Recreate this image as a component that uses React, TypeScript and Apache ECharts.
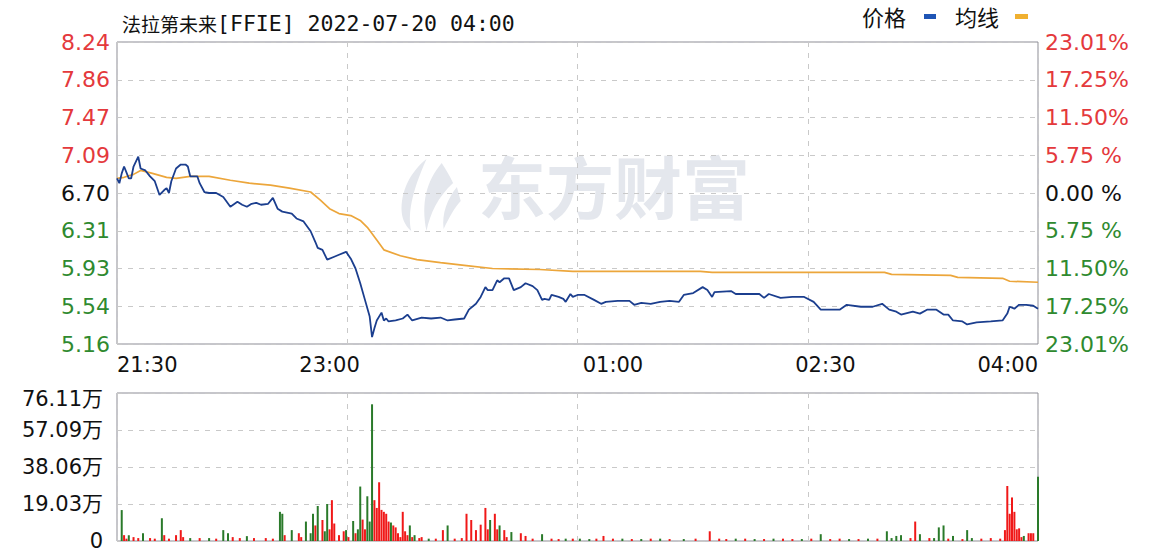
import React, { useEffect, useRef } from "react";
import * as echarts from "echarts";

// ---------- data ----------
const titleName = "法拉第未来";
const titleRest = "[FFIE] 2022-07-20 04:00";

const timeTickMinutes = [0, 90, 210, 300, 390];
const timeTickLabels = ["21:30", "23:00", "01:00", "02:30", "04:00"];

const priceMin = 5.16;
const priceMax = 8.24;
// top to bottom
const priceTickLabels = ["8.24", "7.86", "7.47", "7.09", "6.70", "6.31", "5.93", "5.54", "5.16"];
const pctTickLabels = ["23.01%", "17.25%", "11.50%", "5.75 %", "0.00 %", "5.75 %", "11.50%", "17.25%", "23.01%"];
const volMax = 76.11;
const volTickLabels = ["76.11万", "57.09万", "38.06万", "19.03万", "0"];

// [minute since 21:30, price]
const pricePoints = [
  [0, 6.85], [1, 6.8], [2, 6.9], [3, 6.97], [5, 6.85], [6, 6.85], [7, 6.97], [9, 7.07], [10, 6.95], [12, 6.93],
  [14, 6.87], [16, 6.82], [18, 6.68], [20, 6.73], [21, 6.75], [22, 6.7], [23, 6.82], [25, 6.95], [27, 6.99], [29, 6.99],
  [30, 6.97], [31, 6.87], [32, 6.87], [34, 6.87], [35, 6.8], [37, 6.71], [39, 6.7], [42, 6.7], [45, 6.66], [48, 6.56],
  [51, 6.61], [53, 6.58], [55, 6.56], [57, 6.59], [59, 6.6], [61, 6.58], [64, 6.59], [66, 6.65], [68, 6.54], [70, 6.51],
  [74, 6.49], [76, 6.44], [79, 6.41], [82, 6.31], [84, 6.2], [85, 6.14], [87, 6.12], [89, 6.02], [92, 6.05], [94, 6.07],
  [97, 6.1], [99, 6.03], [101, 5.93], [103, 5.78], [105, 5.61], [107, 5.44], [108, 5.23], [109, 5.32], [110, 5.4], [112, 5.48],
  [113, 5.4], [114, 5.42], [115, 5.39], [118, 5.4], [121, 5.42], [123, 5.46], [125, 5.4], [129, 5.43], [133, 5.42], [137, 5.43],
  [140, 5.4], [143, 5.41], [147, 5.42], [149, 5.51], [152, 5.57], [154, 5.64], [156, 5.74], [157, 5.71], [159, 5.71], [161, 5.81],
  [162, 5.79], [164, 5.83], [166, 5.83], [168, 5.71], [171, 5.74], [173, 5.78], [176, 5.75], [178, 5.71], [180, 5.61], [181, 5.62],
  [183, 5.61], [184, 5.66], [187, 5.64], [189, 5.62], [190, 5.59], [192, 5.67], [193, 5.64], [195, 5.66], [198, 5.66], [202, 5.61],
  [205, 5.57], [207, 5.59], [212, 5.6], [217, 5.6], [219, 5.56], [222, 5.58], [226, 5.57], [230, 5.59], [234, 5.6], [238, 5.59],
  [240, 5.66], [244, 5.68], [248, 5.74], [250, 5.71], [252, 5.64], [253, 5.69], [260, 5.7], [262, 5.67], [272, 5.67], [274, 5.63],
  [276, 5.67], [281, 5.63], [286, 5.64], [291, 5.64], [295, 5.59], [298, 5.51], [306, 5.51], [309, 5.56], [315, 5.54], [320, 5.54],
  [324, 5.57], [327, 5.51], [330, 5.49], [332, 5.46], [337, 5.49], [340, 5.47], [343, 5.51], [347, 5.51], [350, 5.46], [352, 5.46],
  [354, 5.4], [358, 5.39], [360, 5.36], [364, 5.38], [370, 5.39], [375, 5.4], [377, 5.47], [378, 5.54], [380, 5.52], [382, 5.56],
  [385, 5.56], [388, 5.55], [390, 5.52],
];

const avgPoints = [
  [0, 6.85], [3, 6.86], [7, 6.89], [10, 6.93], [15, 6.9], [21, 6.86], [25, 6.85], [31, 6.87], [39, 6.87], [48, 6.83],
  [56, 6.8], [65, 6.78], [73, 6.75], [82, 6.71], [86, 6.63], [90, 6.54], [94, 6.49], [99, 6.47], [103, 6.42], [106, 6.35],
  [110, 6.22], [113, 6.12], [120, 6.06], [127, 6.02], [137, 5.99], [148, 5.96], [159, 5.93], [179, 5.92], [193, 5.9], [247, 5.9],
  [252, 5.89], [325, 5.89], [328, 5.87], [353, 5.86], [356, 5.84], [375, 5.83], [378, 5.8], [390, 5.79],
];

// volume in 万 : [minute, volume]
const volUp = [
  [3, 3], [4, 1.2], [7, 2], [9, 1.5], [14, 1.5], [16, 1.2], [20, 3], [22, 1.2], [25, 3], [27, 5.6], [28, 2], [35, 1.5],
  [42, 1.2], [49, 2], [52, 1.5], [58, 1.5], [63, 1.5], [66, 1.2], [71, 3], [77, 4], [78, 2], [84, 8], [87, 10.8], [90, 6],
  [91, 21], [92, 9], [94, 3], [96, 5], [98, 2], [101, 4], [104, 11], [105, 6], [109, 21], [110, 17], [111, 30.2], [112, 16],
  [113, 15], [114, 14], [115, 10], [117, 8], [118, 7], [119, 4], [120, 2], [121, 15], [122, 5], [123, 3], [125, 2], [128, 1.5],
  [129, 2], [135, 1.2], [138, 5.6], [143, 1.2], [146, 1.5], [148, 14], [150, 10.8], [152, 5.6], [154, 8.4], [156, 17], [157, 6],
  [160, 14], [161, 6], [164, 5.6], [165, 2], [171, 4], [173, 2.6], [176, 1.2], [184, 1.2], [187, 1], [193, 1.2], [203, 1.2],
  [206, 2.6], [210, 1.2], [218, 1], [226, 1.2], [234, 1], [245, 1.2], [251, 5], [255, 1.2], [258, 1], [266, 1.2], [274, 1],
  [282, 1.2], [286, 1], [294, 1.2], [302, 1], [306, 1.2], [314, 1], [322, 1.2], [336, 1.5], [338, 10], [344, 1.5], [352, 1.2],
  [358, 1], [366, 1.2], [370, 1.5], [374, 1.2], [376, 5.6], [377, 28.3], [378, 14], [379, 22.4], [380, 15], [381, 6], [382, 6.5],
  [383, 2], [386, 4], [387, 4], [388, 4],
];
const volDown = [
  [2, 15.9], [5, 3], [11, 4], [19, 11.7], [31, 1.5], [39, 1.5], [45, 5.6], [47, 4], [55, 2.5], [69, 15], [70, 14], [74, 5.6],
  [80, 10], [82, 4], [83, 14], [85, 18], [88, 5], [89, 19], [97, 5.6], [100, 10.3], [102, 6], [103, 28], [106, 23], [107, 10],
  [108, 70.3], [116, 9.5], [124, 8], [126, 3], [132, 1.2], [140, 8], [158, 10.8], [162, 8], [167, 4.6], [180, 3.5], [190, 1.2],
  [196, 1.2], [200, 1], [214, 1.2], [222, 1], [230, 1.2], [240, 1], [262, 1.2], [270, 1], [278, 1.2], [290, 1], [298, 3.5],
  [310, 1], [318, 1.2], [326, 5], [328, 1.5], [330, 2.6], [332, 3], [340, 3.5], [346, 1.5], [348, 7], [350, 8], [354, 2.6],
  [360, 5.6], [362, 1.5], [384, 2.6], [390, 33],
];

// ---------- styles ----------
const RED = "#e4393c";
const GREEN = "#2f8a2f";
const BLACK = "#111111";
const GRID_LINE = "#c9c9c9";
const FONT = "DejaVu Sans, Noto Sans CJK SC, sans-serif";
const CJK = "Noto Sans CJK SC";

const logoPath =
  "M30 2 C14 14 2 34 4 56 C5 64 9 70 14 74 C10 58 14 36 30 2 Z " +
  "M46 6 C30 24 24 46 30 74 C34 56 42 40 58 26 C54 18 50 12 46 6 Z " +
  "M62 30 C52 42 46 56 48 72 C54 60 60 50 66 44 Z";
try {
  echarts.graphic.registerShape("logo", echarts.graphic.extendPath(logoPath, {}));
} catch (e) {
  /* ignore */
}

function richColors(size: number) {
  return {
    r: { color: RED, fontSize: size, fontFamily: FONT, lineHeight: 20 },
    k: { color: BLACK, fontSize: size, fontFamily: FONT, lineHeight: 20 },
    g: { color: GREEN, fontSize: size, fontFamily: FONT, lineHeight: 20 },
  };
}

function buildOption() {
  const dashed = { show: true, lineStyle: { type: [5, 6], color: GRID_LINE, width: 1 } };
  const noAxis = { axisLine: { show: false }, axisTick: { show: false } };
  return {
    animation: false,
    backgroundColor: "#ffffff",
    textStyle: { fontFamily: FONT },
    title: {
      left: 117,
      top: 7,
      text: `{a|${titleName}}{b|${titleRest}}`,
      textStyle: {
        fontWeight: "normal",
        rich: {
          a: { fontSize: 19, fontFamily: CJK, color: BLACK, fontWeight: "normal" },
          b: { fontSize: 21.5, fontFamily: "DejaVu Sans Mono", color: BLACK, fontWeight: "normal" },
        },
      },
    },
    grid: [
      { left: 117, top: 42, width: 921, height: 302, show: true, borderColor: "#8c8c96", borderWidth: 1 },
      { left: 117, top: 393, width: 921, height: 148, show: true, borderColor: "#8c8c96", borderWidth: 1 },
    ],
    xAxis: [
      {
        gridIndex: 0,
        type: "value",
        min: 0,
        max: 390,
        interval: 30,
        ...noAxis,
        splitLine: { show: false },
        axisLabel: {
          margin: 10,
          color: BLACK,
          fontSize: 21,
          fontFamily: FONT,
          showMinLabel: true,
          showMaxLabel: true,
          alignMinLabel: "left",
          alignMaxLabel: "right",
          formatter: (v: number) => {
            const i = timeTickMinutes.indexOf(Math.round(v));
            return i >= 0 ? timeTickLabels[i] : "";
          },
        },
      },
      {
        gridIndex: 0,
        type: "value",
        min: 0,
        max: 390,
        interval: 97.5,
        ...noAxis,
        axisLabel: { show: false },
        splitLine: dashed,
      },
      {
        gridIndex: 1,
        type: "value",
        min: 0,
        max: 390,
        interval: 97.5,
        ...noAxis,
        axisLabel: { show: false },
        splitLine: dashed,
      },
    ],
    yAxis: [
      { gridIndex: 0, type: "value", min: priceMin, max: priceMax, show: false },
      {
        gridIndex: 0,
        type: "value",
        position: "left",
        min: 0,
        max: 8,
        interval: 1,
        ...noAxis,
        splitLine: dashed,
        axisLabel: {
          margin: 7,
          fontSize: 22,
          formatter: (v: number) => {
            const i = Math.round(v);
            const t = priceTickLabels[8 - i];
            const k = i > 4 ? "r" : i === 4 ? "k" : "g";
            return `{${k}|${t}}`;
          },
          rich: richColors(22),
        },
      },
      {
        gridIndex: 0,
        type: "value",
        position: "right",
        min: 0,
        max: 8,
        interval: 1,
        ...noAxis,
        splitLine: { show: false },
        axisLabel: {
          margin: 7,
          fontSize: 22,
          formatter: (v: number) => {
            const i = Math.round(v);
            const t = pctTickLabels[8 - i];
            const k = i > 4 ? "r" : i === 4 ? "k" : "g";
            return `{${k}|${t}}`;
          },
          rich: richColors(22),
        },
      },
      {
        gridIndex: 1,
        type: "value",
        min: 0,
        max: volMax,
        interval: volMax / 4,
        ...noAxis,
        splitLine: dashed,
        axisLabel: {
          margin: 14,
          fontSize: 21,
          formatter: (v: number) => {
            const i = Math.round(v / (volMax / 4));
            const t = volTickLabels[4 - i];
            return i === 4 ? `{t|${t}}` : `{n|${t}}`;
          },
          rich: {
            n: { color: BLACK, fontSize: 21, fontFamily: FONT, lineHeight: 18 },
            t: { color: BLACK, fontSize: 21, fontFamily: FONT, lineHeight: 18, padding: [12, 0, 0, 0] },
          },
        },
      },
    ],
    graphic: [
      {
        type: "logo",
        x: 398,
        y: 157,
        scaleX: 0.95,
        scaleY: 1.0,
        z: 0,
        silent: true,
        style: { fill: "#e4e7ed" },
      },
      {
        type: "text",
        left: 478,
        top: 150,
        z: 0,
        silent: true,
        style: {
          text: "东方财富",
          fontSize: 68,
          fontWeight: "bold",
          fontFamily: CJK,
          fill: "#e4e7ed",
        },
      },
      {
        type: "text",
        left: 862,
        top: 5,
        style: { text: "价格", fontSize: 22, fontFamily: CJK, fill: BLACK },
      },
      { type: "rect", shape: { x: 924, y: 14, width: 12, height: 5 }, style: { fill: "#1f55b5" } },
      {
        type: "text",
        left: 955,
        top: 5,
        style: { text: "均线", fontSize: 22, fontFamily: CJK, fill: BLACK },
      },
      { type: "rect", shape: { x: 1015, y: 14, width: 13, height: 5 }, style: { fill: "#f0b030" } },
    ],
    series: [
      {
        name: "均线",
        type: "line",
        xAxisIndex: 0,
        yAxisIndex: 0,
        data: avgPoints,
        symbol: "none",
        lineStyle: { color: "#eca63b", width: 1.7 },
        z: 3,
      },
      {
        name: "价格",
        type: "line",
        xAxisIndex: 0,
        yAxisIndex: 0,
        data: pricePoints,
        symbol: "none",
        lineStyle: { color: "#1b3e8e", width: 1.8 },
        z: 4,
      },
      {
        name: "成交量涨",
        type: "bar",
        xAxisIndex: 2,
        yAxisIndex: 3,
        data: volUp,
        barWidth: 2,
        barGap: "-100%",
        itemStyle: { color: "#f01818" },
      },
      {
        name: "成交量跌",
        type: "bar",
        xAxisIndex: 2,
        yAxisIndex: 3,
        data: volDown,
        barWidth: 2,
        barGap: "-100%",
        itemStyle: { color: "#2a7a2a" },
      },
    ],
  };
}

export default function App() {
  const ref = useRef<HTMLDivElement>(null);
  useEffect(() => {
    if (!ref.current) return;
    const chart = echarts.init(ref.current, null, { renderer: "svg" });
    chart.setOption(buildOption() as any);
    return () => chart.dispose();
  }, []);
  return (
    <div
      ref={ref}
      style={{ position: "fixed", left: 0, top: 0, width: 1156, height: 552, background: "#fff" }}
    />
  );
}
